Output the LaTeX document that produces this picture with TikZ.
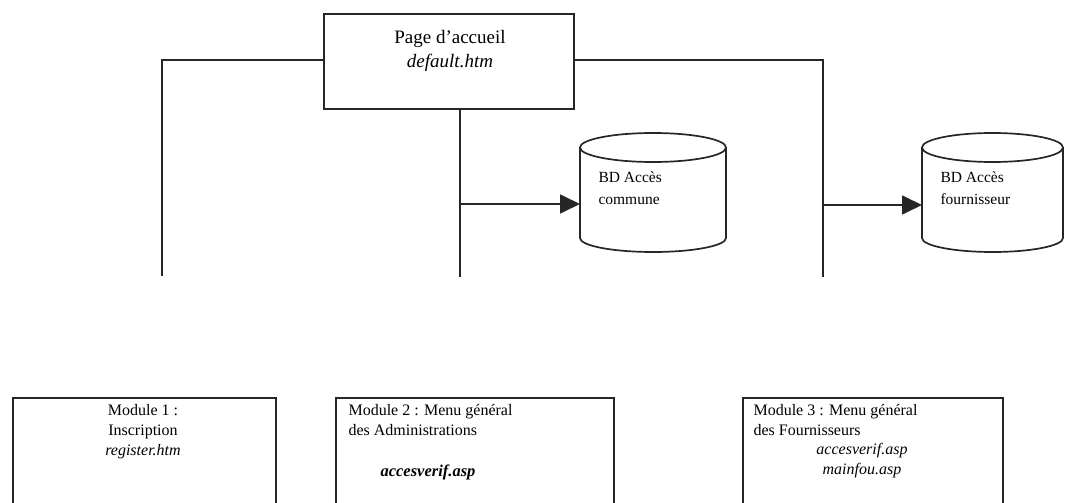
\documentclass[tikz,border=0pt]{standalone}
\usepackage{fontspec}
\setmainfont{Liberation Serif}
\usetikzlibrary{arrows.meta,calc}
\begin{document}
\begin{tikzpicture}[x=1pt,y=-1pt,
  line/.style={line width=1.7pt,draw=black!85},
  tip/.style={-{Triangle[length=20pt,width=19pt]}},
  topbox/.style={draw=black!85,line width=1.7pt,minimum width=250pt,minimum height=95pt,inner sep=0pt,anchor=north west},
  modbox/.style={draw=black!85,line width=1.7pt,inner sep=0pt,anchor=north west,minimum height=106pt},
  cylbody/.style={minimum width=146pt,minimum height=105pt,inner sep=0pt,anchor=north west},
  cyltxt/.style={font=\fontsize{15.5pt}{22pt}\selectfont,align=left,anchor=north west},
  modtxt/.style={font=\fontsize{16pt}{20pt}\selectfont},
]
\useasboundingbox (0,0) rectangle (1066,503);

% top box
\node[topbox] (home) at (323,13) {};
\node[font=\fontsize{19pt}{24pt}\selectfont,align=center] (hometxt) at (450,51) {Page d'accueil\\\textit{default.htm}};

% cylinders (drawn shapes) with anchor nodes
\node[cylbody] (dbA) at (580,147) {};
\node[cylbody] (dbB) at (922,147) {};
\foreach \n/\xl/\xr in {dbA/580/726, dbB/922/1063}{
  \draw[line] ({(\xl+\xr)/2},147.5) ellipse ({(\xr-\xl)/2} and 14.5);
  \draw[line] (\xl,147.5) -- (\xl,238) arc[start angle=180,end angle=0,x radius={(\xr-\xl)/2},y radius=14] -- (\xr,147.5);
}
\node[cyltxt] (dbAtxt) at (595,168) {BD Accès\\commune};
\node[cyltxt] (dbBtxt) at (937,168) {BD Accès\\fournisseur};

% connectors from top box
\coordinate (lend) at (162,276);
\coordinate (mend) at (460,277);
\coordinate (rend) at (823,277);
\coordinate (marr) at (460,204);
\coordinate (rarr) at (823,205);
\draw[line] (home.west |- 0,60) -| (lend);
\draw[line] (home.east |- 0,60) -| (rend);
\draw[line] (home.south -| mend) -- (mend);
\draw[line,tip] (marr) -- (dbA.west |- marr);
\draw[line,tip] (rarr) -- (dbB.west |- rarr);

% module boxes
\node[modbox,minimum width=263pt] (m1) at (12,397) {};
\node[modbox,minimum width=278pt] (m2) at (335,397) {};
\node[modbox,minimum width=260pt] (m3) at (742,397) {};

\node[modtxt,align=center] (m1txt) at (143,432) {Module 1~:\\Inscription\\\textit{register.htm}};
\node[modtxt,align=left,anchor=north west] (m2txt) at (345,401) {Module 2~: Menu général\\des Administrations};
\node[modtxt,font=\fontsize{16.5pt}{20pt}\selectfont] (m2f) at (428,472) {\textbf{\textit{accesverif.asp}}};
\node[modtxt,align=left,anchor=north west] (m3txt) at (750,401) {Module 3~: Menu général\\des Fournisseurs};
\node[modtxt,align=center] (m3f) at (862,461) {\textit{accesverif.asp}\\\textit{mainfou.asp}};
\end{tikzpicture}
\end{document}
